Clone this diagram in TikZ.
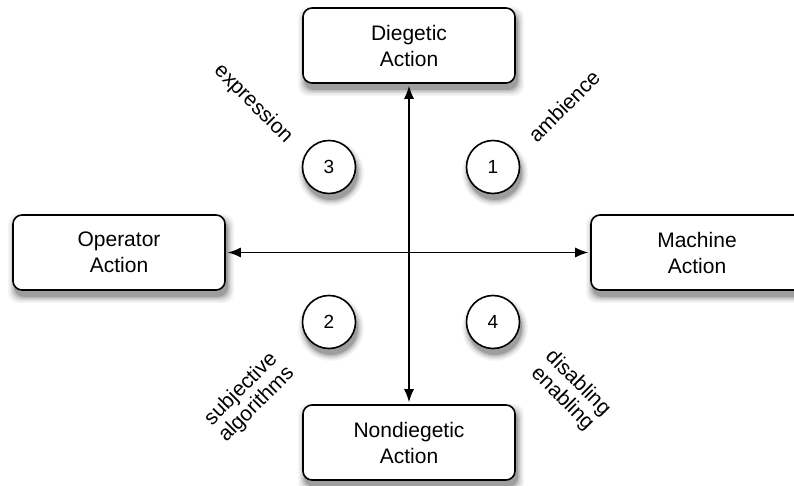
\documentclass[tikz,border=0pt]{standalone}
\usepackage{fontspec}
\setmainfont{Liberation Sans}
\usetikzlibrary{arrows.meta,calc}

\begin{document}
\begin{tikzpicture}[x=1pt,y=1pt]
    \tikzstyle{action}=[draw, line width=1.6pt, rounded corners=9pt, fill=white,
        minimum width=212pt, minimum height=75pt, align=center,
        font=\fontsize{21}{26}\selectfont]
    \tikzstyle{zone}=[draw, line width=1.6pt, circle, fill=white, minimum size=53pt,
        inner sep=0pt, font=\fontsize{19}{22}\selectfont]
    \tikzstyle{tag}=[align=center, font=\fontsize{21}{22}\selectfont]
    \tikzstyle{axis}=[line width=1.3pt, {Latex[length=13pt,width=10pt]}-{Latex[length=13pt,width=10pt]},
        shorten <=2pt, shorten >=2pt]
    \useasboundingbox (0,0) rectangle (794,485);
    % places
    \coordinate (pdie) at (409,439.5);
    \coordinate (pope) at (119,232.5);
    \coordinate (pmac) at (697,232.5);
    \coordinate (pnon) at (409,42.5);
    \coordinate (pq1) at (493,318);
    \coordinate (pq3) at (329,318);
    \coordinate (pq2) at (329,163);
    \coordinate (pq4) at (493,163);
    % soft shadows
    \foreach \p in {pdie,pope,pmac,pnon}
        \foreach \g/\d in {4/7,9/5.5,16/4,26/2.5,38/1}
            \fill[black!\g, rounded corners=10pt]
                ($(\p)+(-104-\d,-43.5-\d)$) rectangle ($(\p)+(108+\d,31.5+\d)$);
    \foreach \p in {pq1,pq2,pq3,pq4}
        \foreach \g/\d in {4/7,9/5.5,16/4,26/2.5,38/1}
            \fill[black!\g] ($(\p)+(2,-6)$) circle (26+\d);
    % the four kinds of action
    \node[action] (diegetic) at (pdie) {Diegetic\\Action};
    \node[action] (operator) at (pope) {Operator\\Action};
    \node[action] (machine) at (pmac) {Machine\\Action};
    \node[action] (nondiegetic) at (pnon) {Nondiegetic\\Action};
    % the two axes
    \draw[axis] (diegetic) -- (nondiegetic);
    \draw[axis] (operator) -- (machine);
    % quadrants
    \node[zone] (q1) at (pq1) {1};
    \node[zone] (q3) at (pq3) {3};
    \node[zone] (q2) at (pq2) {2};
    \node[zone] (q4) at (pq4) {4};
    \node[tag, rotate=-45] (expression) at (253,381) {expression};
    \node[tag, rotate=45] (ambience) at (564,379) {ambience};
    \node[tag, rotate=45] (subjective) at (249,88) {subjective\\algorithms};
    \node[tag, rotate=-45] (enabling) at (570,94) {disabling\\enabling};
\end{tikzpicture}
\end{document}
